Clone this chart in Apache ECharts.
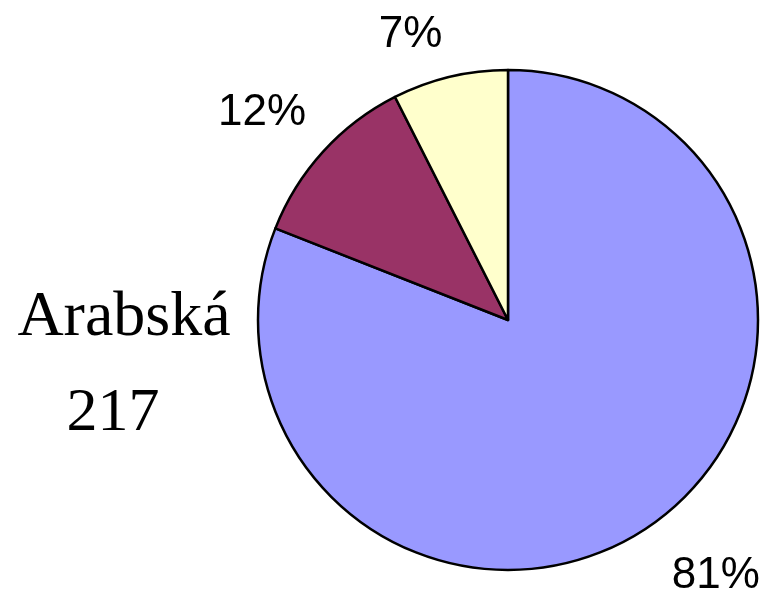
<!DOCTYPE html>
<html>
<head>
<meta charset="utf-8">
<script src="https://cdn.jsdelivr.net/npm/echarts@6/dist/echarts.min.js"></script>
<style>html,body{margin:0;padding:0;background:#fff}#c{width:765px;height:592px}</style>
</head>
<body>
<div id="c"></div>
<script>
const categories = ['Arabská', 'Jiná 1', 'Jiná 2'];
const values = [217, 31, 20];
const colors = ['#9999FF', '#993366', '#FFFFCC'];
const labelShift = [[-10, 8], [25, -5], [9, 7]];

const chart = echarts.init(document.getElementById('c'), null, {renderer: 'canvas'});
chart.setOption({
  animation: false,
  backgroundColor: '#ffffff',
  graphic: [
    {type: 'text', x: 124, y: 318, style: {text: categories[0], font: '64px "Liberation Serif", "Times New Roman", serif', fill: '#000', textAlign: 'center', textVerticalAlign: 'middle'}},
    {type: 'text', x: 113, y: 414, style: {text: String(values[0]), font: '62px "Liberation Serif", "Times New Roman", serif', fill: '#000', textAlign: 'center', textVerticalAlign: 'middle'}}
  ],
  series: [{
    type: 'pie',
    center: [508, 320],
    radius: [0, 250],
    startAngle: 90,
    clockwise: true,
    avoidLabelOverlap: false,
    data: categories.map((n, i) => ({name: n, value: values[i], itemStyle: {color: colors[i]}})),
    itemStyle: {borderColor: '#000', borderWidth: 2.5},
    label: {
      show: true,
      position: 'outside',
      formatter: p => Math.round(p.percent) + '%',
      fontFamily: '"Liberation Sans", Arial, sans-serif',
      fontSize: 44,
      color: '#000',
      distanceToLabelLine: 5
    },
    labelLine: {show: false, length: 50, length2: 0},
    emphasis: {disabled: true},
    labelLayout: p => ({dx: labelShift[p.dataIndex][0], dy: labelShift[p.dataIndex][1]})
  }]
});
</script>
</body>
</html>
